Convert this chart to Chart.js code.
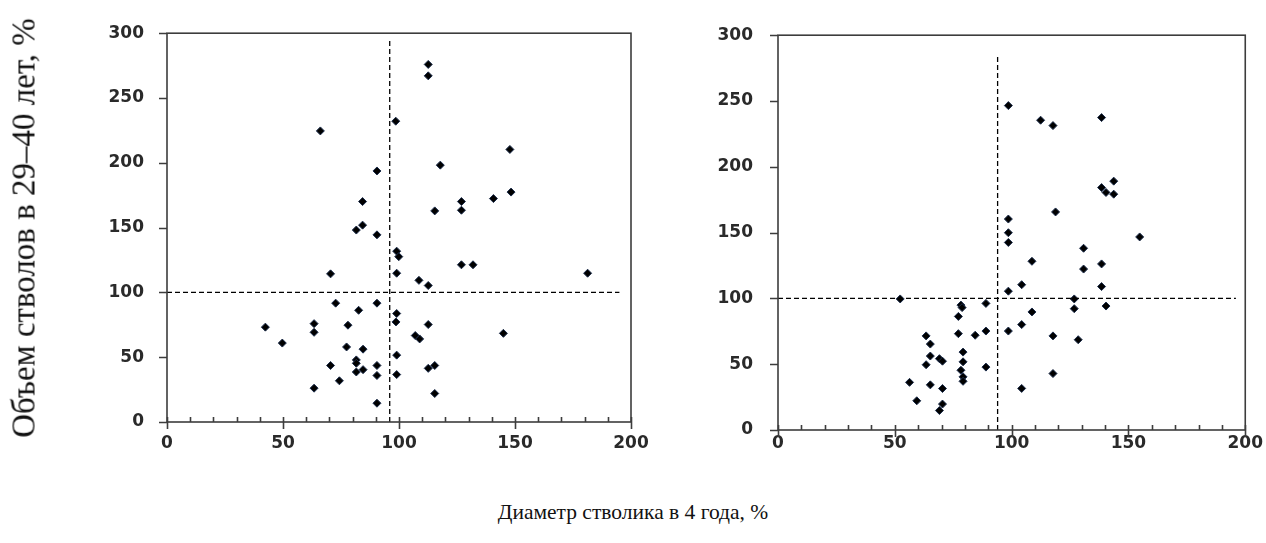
<!DOCTYPE html>
<html lang="ru">
<head>
  <meta charset="UTF-8">
  <title>Диаметр стволика и объем стволов</title>
  <script src="https://cdn.jsdelivr.net/npm/chart.js"></script>
  <style>
    body { margin: 0; background: #fff; width: 1266px; height: 543px; position: relative; overflow: hidden; }
    canvas { position: absolute; top: 0; }
    #leftChart { left: 0; }
    #rightChart { left: 680px; }
    #yTitle {
      position: absolute; left: 24px; top: 228px;
      transform: translate(-50%, -50%) rotate(-90deg);
      white-space: nowrap; font-family: "Liberation Serif", serif; font-size: 33px; color: #111;
    }
    #xTitle {
      position: absolute; left: 633px; top: 512px;
      transform: translate(-50%, -50%);
      white-space: nowrap; font-family: "Liberation Serif", serif; font-size: 21.5px; color: #111;
    }
  </style>
</head>
<body>
  <canvas id="leftChart" width="660" height="470"></canvas>
  <canvas id="rightChart" width="586" height="470"></canvas>
  <div id="yTitle">Объем стволов в 29–40 лет, %</div>
  <div id="xTitle">Диаметр стволика в 4 года, %</div>

  <script>
    // first group: diameter at 4 years (%) vs stem volume at 29-40 years (%)
    const leftX = [112.6, 112.6, 98.6, 66.1, 117.8, 90.5, 84.3, 115.4, 84.3, 81.6,
                   90.5, 99.0, 99.9, 99.0, 70.5, 108.6, 112.6, 72.7, 90.5, 82.6,
                   99.0, 98.7, 63.4, 42.4, 78.0, 112.6, 63.4, 107.0, 108.9, 49.7,
                   77.4, 84.5, 99.0, 81.6, 81.6, 70.5, 90.5, 115.4, 112.6, 81.6,
                   84.5, 90.5, 99.0, 74.3, 63.4, 115.4, 90.5, 147.8, 126.9, 126.9,
                   140.7, 148.3, 126.9, 131.9, 181.3, 145.0];
    const leftY = [275.9, 267.1, 232.1, 224.6, 198.2, 193.7, 170.1, 162.9, 151.9, 148.1,
                   144.4, 131.8, 127.6, 114.8, 114.3, 109.3, 105.3, 91.7, 91.7, 86.2,
                   83.7, 77.2, 75.9, 73.2, 74.7, 75.2, 69.2, 66.7, 64.1, 60.9,
                   57.9, 56.2, 51.6, 47.9, 45.3, 43.6, 43.6, 43.6, 41.4, 38.6,
                   40.4, 35.9, 36.6, 31.8, 26.1, 22.0, 14.5, 210.3, 170.1, 163.4,
                   172.4, 177.4, 121.3, 121.3, 114.8, 68.4];

    // second group
    const rightX = [98.6, 112.4, 117.7, 138.5, 143.7, 138.5, 140.4, 143.7, 118.8, 98.6,
                    98.6, 98.6, 154.8, 130.8, 108.7, 138.5, 130.8, 138.5, 104.3, 98.6,
                    126.8, 126.8, 140.4, 108.7, 104.3, 98.6, 117.7, 128.5, 117.7, 104.3,
                    52.3, 78.3, 78.8, 89.0, 77.2, 77.2, 84.4, 89.0, 63.4, 65.2,
                    65.2, 69.1, 70.4, 63.4, 79.2, 79.2, 78.3, 79.2, 79.2, 89.0,
                    56.3, 65.2, 70.4, 59.4, 70.4, 69.1];
    const rightY = [246.5, 235.4, 231.3, 237.4, 189.1, 184.2, 180.5, 179.2, 165.7, 160.3,
                    149.9, 142.5, 146.7, 138.1, 128.2, 126.2, 122.3, 109.0, 110.4, 105.5,
                    99.6, 92.2, 94.2, 89.7, 80.1, 75.2, 71.5, 68.6, 42.9, 31.6,
                    99.6, 94.9, 93.0, 96.2, 86.3, 73.2, 72.0, 75.2, 71.5, 65.3,
                    56.2, 54.2, 52.3, 49.6, 59.2, 51.8, 45.4, 40.4, 37.0, 47.8,
                    36.2, 34.3, 31.5, 22.2, 19.7, 14.8];

    // dashed reference lines: [x, y] end points
    const leftVertical = [[96, 0], [96, 295]];
    const leftHorizontal = [[0, 100], [195, 100]];
    const rightVertical = [[94, 0], [94, 284]];
    const rightHorizontal = [[0, 100], [196, 100]];

    const xMax = 200, xStep = 50, xMinor = 10;
    const yMax = 300, yStep = 50;

    const toPoints = (xs, ys) => xs.map((x, i) => ({ x: x, y: ys[i] }));
    const toLine = pairs => pairs.map(p => ({ x: p[0], y: p[1] }));

    // frame, minor ticks on x and outward ticks on y
    const axisMarks = {
      id: 'axisMarks',
      afterDraw(chart) {
        const { ctx, chartArea: a, scales: { x, y } } = chart;
        ctx.save();
        ctx.strokeStyle = '#3d3d3d';
        ctx.lineWidth = 1.6;
        ctx.strokeRect(a.left, a.top, a.right - a.left, a.bottom - a.top);
        ctx.beginPath();
        for (let v = 0; v <= xMax; v += xMinor) {
          const px = Math.round(x.getPixelForValue(v)) + 0.5;
          ctx.moveTo(px, a.bottom - 5);
          ctx.lineTo(px, v % xStep === 0 ? a.bottom + 7 : a.bottom);
        }
        for (let v = 0; v <= yMax; v += yStep) {
          const py = Math.round(y.getPixelForValue(v)) + 0.5;
          ctx.moveTo(a.left - 8, py);
          ctx.lineTo(a.left, py);
        }
        ctx.stroke();
        ctx.restore();
      }
    };

    function makeChart(id, xs, ys, vLine, hLine, box) {
      const tickFont = { family: 'DejaVu Sans', size: 17, weight: 'bold' };
      const dashed = data => ({
        type: 'line', data: data, borderColor: '#000', borderWidth: 1.3,
        borderDash: [5, 3], pointRadius: 0, fill: false
      });
      return new Chart(document.getElementById(id), {
        type: 'scatter',
        data: {
          datasets: [
            dashed(toLine(vLine)),
            dashed(toLine(hLine)),
            {
              data: toPoints(xs, ys),
              pointStyle: 'rectRot',
              pointRadius: 4,
              backgroundColor: '#000',
              borderColor: '#1b2c4a',
              borderWidth: 1
            }
          ]
        },
        options: {
          responsive: false,
          animation: false,
          layout: { padding: { top: box.top, right: box.right, left: 0, bottom: 0 } },
          plugins: { legend: { display: false }, tooltip: { enabled: false } },
          scales: {
            x: {
              type: 'linear', min: 0, max: xMax,
              border: { display: false },
              grid: { display: false, drawTicks: false },
              ticks: { stepSize: xStep, font: tickFont, color: '#2a2a2a', padding: box.xPad, maxRotation: 0 },
              afterFit: s => { s.height = box.xHeight; }
            },
            y: {
              type: 'linear', min: 0, max: yMax,
              border: { display: false },
              grid: { display: false, drawTicks: false },
              ticks: { stepSize: yStep, font: tickFont, color: '#2a2a2a', padding: box.yPad },
              afterFit: s => { s.width = box.yWidth; }
            }
          }
        },
        plugins: [axisMarks]
      });
    }

    makeChart('leftChart', leftX, leftY, leftVertical, leftHorizontal,
      { top: 23, right: 29, xHeight: 48, yWidth: 167, xPad: 11, yPad: 23 });
    makeChart('rightChart', rightX, rightY, rightVertical, rightHorizontal,
      { top: 24.5, right: 19, xHeight: 40, yWidth: 98, xPad: 3, yPad: 25 });
  </script>
</body>
</html>
